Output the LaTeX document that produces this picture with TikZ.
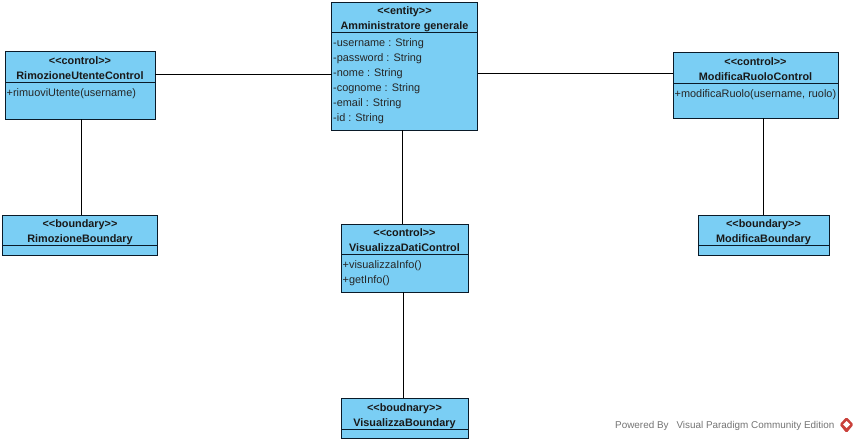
\documentclass[tikz,border=0pt]{standalone}
\usepackage{fontspec}
\setmainfont{Liberation Sans}
\usepackage{xcolor}
\usetikzlibrary{positioning}
\definecolor{classblue}{HTML}{7ACEF4}
\definecolor{classline}{HTML}{0A1A28}
\definecolor{logored}{HTML}{C9403A}
\tikzset{
  classbox/.style={draw=classline, fill=classblue, line width=0.9pt, inner sep=0pt, outer sep=0pt, minimum width=#1},
  headtext/.style={font=\fontsize{10.85}{15}\selectfont\bfseries, align=center, inner sep=0pt, anchor=north, text=black!90},
  membertext/.style={font=\fontsize{10.9}{15}\selectfont, align=left, inner sep=0pt, anchor=north west, text=black!85},
  assoc/.style={draw=black, line width=0.9pt},
}
% x0, y0, x1, y1, y of the divider, name, head, members
\newcommand{\umlclass}[8]{
  \node[classbox={(#3-#1)*1pt}, minimum height={(#4-#2)*1pt}] (#6) at ({(#1+#3)/2},{(#2+#4)/2}) {};
  \draw[classline, line width=0.9pt] (#6.west |- 0,#5) -- (#6.east |- 0,#5);
  \node[headtext] (#6head) at ({(#1+#3)/2},{#5-26}) {#7};
  \node[membertext] (#6body) at ({#1+1.5},{#5+6}) {#8};
}
\newcommand{\st}[1]{{<}{<}#1{>}{>}}
\begin{document}
\begin{tikzpicture}[x=1pt,y=-1pt]
  \useasboundingbox (0,0) rectangle (858,442);

  % classes
  \umlclass{331.5}{2}{477.5}{130}{32}{adminEntity}{\st{entity}\\Amministratore generale}
    {-username : String\\-password : String\\-nome : String\\-cognome : String\\-email : String\\-id : String}
  \umlclass{5}{51.5}{155}{119}{82}{rimozioneControl}{\st{control}\\RimozioneUtenteControl}{+rimuoviUtente(username)}
  \umlclass{2.5}{215}{157.5}{255}{245}{rimozioneBoundary}{\st{boundary}\\RimozioneBoundary}{}
  \umlclass{341}{224}{468}{292}{254}{visualizzaControl}{\st{control}\\VisualizzaDatiControl}{+visualizzaInfo()\\+getInfo()}
  \umlclass{341}{398}{468}{438}{429}{visualizzaBoundary}{\st{boudnary}\\VisualizzaBoundary}{}
  \umlclass{673}{52}{838}{118}{83}{modificaControl}{\st{control}\\ModificaRuoloControl}{+modificaRuolo(username, ruolo)}
  \umlclass{698}{215}{829}{255}{245}{modificaBoundary}{\st{boundary}\\ModificaBoundary}{}

  % associazioni
  \draw[assoc] ([yshift=11.25pt]rimozioneControl.east) -- ([yshift=-8pt]adminEntity.west);
  \draw[assoc] ([yshift=-7pt]adminEntity.east) -- ([yshift=12pt]modificaControl.west);
  \draw[assoc] ([xshift=1pt]rimozioneControl.south) -- ([xshift=1pt]rimozioneBoundary.north);
  \draw[assoc] ([xshift=-2.5pt]adminEntity.south) -- ([xshift=-2.5pt]visualizzaControl.north);
  \draw[assoc] ([xshift=-1.5pt]visualizzaControl.south) -- ([xshift=-1.5pt]visualizzaBoundary.north);
  \draw[assoc] ([xshift=8pt]modificaControl.south) -- ([yshift=0pt]modificaBoundary.north);

  % logo
  \node[font=\fontsize{9.9}{12}\selectfont, text=black!55, inner sep=0pt, anchor=east] (poweredBy) at (834.5,425.5) {Powered By\hspace{8pt}Visual Paradigm Community Edition};
  \fill[logored, rounded corners=1.5pt] (846.5,417) -- (853.5,424.5) -- (846.5,433) -- (839.5,424.5) -- cycle;
  \fill[white] (846.5,421) -- (850,424.5) -- (846.5,428) -- (843,424.5) -- cycle;
\end{tikzpicture}
\end{document}
